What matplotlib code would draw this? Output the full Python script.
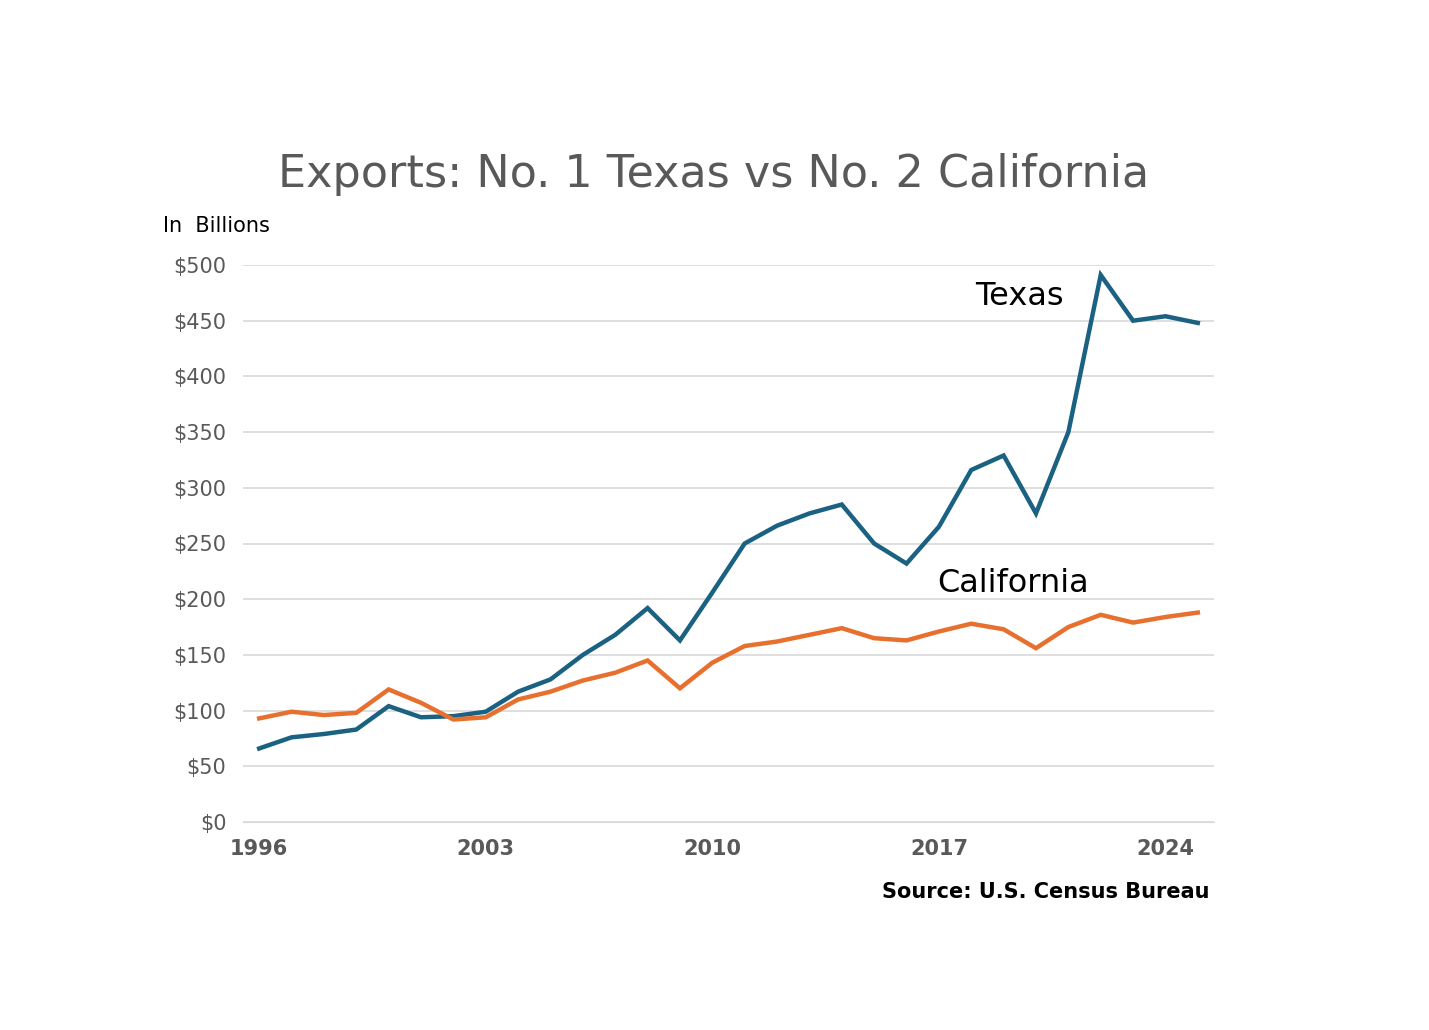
import matplotlib
matplotlib.use("Agg")
import matplotlib.pyplot as plt

years = list(range(1996, 2026))
texas = [66, 76, 79, 83, 104, 94, 95, 99, 117, 128, 150, 168, 192, 163, 206, 250, 266, 277, 285, 250, 232, 265, 316, 329, 277, 350, 491, 450, 454, 448]
california = [93, 99, 96, 98, 119, 107, 92, 94, 110, 117, 127, 134, 145, 120, 143, 158, 162, 168, 174, 165, 163, 171, 178, 173, 156, 175, 186, 179, 184, 188]
xticks = [1996, 2003, 2010, 2017, 2024]
yticks = list(range(0, 501, 50))

fig = plt.figure(figsize=(14.29, 10.30), dpi=100)
W, H = 1429, 1030
ax = fig.add_axes([243/W, 1-822/H, (1214-243)/W, (822-265)/H])
ax.plot(years, texas, color="#1B6282", lw=3.2, solid_joinstyle="miter")
ax.plot(years, california, color="#E8702E", lw=3.2, solid_joinstyle="miter")
ax.set_xlim(1995.5, 2025.5)
ax.set_ylim(0, 500)
ax.set_yticks(yticks)
ax.set_yticklabels([f"${v}" for v in yticks], fontsize=15, color="#595959")
ax.set_xticks(xticks)
ax.set_xticklabels([str(x) for x in xticks], fontsize=15, fontweight="bold", color="#595959")
ax.grid(axis="y", color="#D9D9D9", lw=1.2)
ax.set_axisbelow(True)
for s in ax.spines.values():
    s.set_visible(False)
ax.tick_params(length=0, pad=12)
ax.spines["bottom"].set_visible(True)
ax.spines["bottom"].set_color("#D9D9D9")

ax.text(2019.5, 472, "Texas", fontsize=23, ha="center", va="center")
ax.text(2019.3, 214, "California", fontsize=23, ha="center", va="center")
fig.text(714/W, 1-175/H, "Exports: No. 1 Texas vs No. 2 California", fontsize=32, color="#595959", ha="center", va="center")
fig.text(163/W, 1-226/H, "In  Billions", fontsize=15, ha="left", va="center")
fig.text(1209/W, 1-892/H, "Source: U.S. Census Bureau", fontsize=15, fontweight="bold", ha="right", va="center")
fig.savefig("out.png", dpi=100, facecolor="white")
